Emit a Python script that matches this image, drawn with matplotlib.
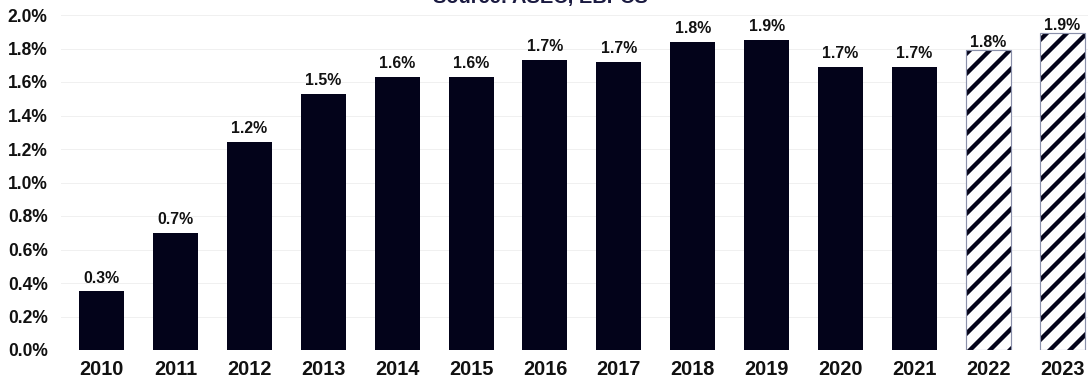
import matplotlib
matplotlib.use("Agg")
import matplotlib.pyplot as plt

plt.rcParams["font.family"] = ["Liberation Sans", "DejaVu Sans"]
plt.rcParams["hatch.linewidth"] = 2.6

anos = ["2010", "2011", "2012", "2013", "2014", "2015", "2016",
        "2017", "2018", "2019", "2020", "2021", "2022", "2023"]
valores = [0.35, 0.70, 1.24, 1.53, 1.63, 1.63, 1.73,
           1.72, 1.84, 1.85, 1.69, 1.69, 1.79, 1.89]
projecao = [False] * 12 + [True, True]
yticks = [0.0, 0.2, 0.4, 0.6, 0.8, 1.0, 1.2, 1.4, 1.6, 1.8, 2.0]

azul = "#03031a"

fig = plt.figure(figsize=(1088 / 120, 383 / 120), dpi=120)
ax = fig.add_axes([61 / 1088, 33 / 383, 1 - 61 / 1088, (368 - 33) / 383])

x = list(range(len(anos)))
for i, v in enumerate(valores):
    if projecao[i]:
        ax.bar(i, v, width=0.61, color="white", edgecolor=azul, hatch="//",
               linewidth=0, zorder=3)
        ax.bar(i, v, width=0.61, fill=False, edgecolor="#8a90aa",
               linewidth=0.7, zorder=4)
        off = 0.0
    else:
        ax.bar(i, v, width=0.61, color=azul, linewidth=0, zorder=3)
        off = 0.035
    ax.text(i, v + off, f"{v:.1f}%", ha="center", va="bottom",
            fontsize=9.5, fontweight="bold", color="#111111", zorder=5)

ax.set_xlim(-0.55, 13.35)
ax.set_ylim(0, 2.0)
ax.set_yticks(yticks)
ax.set_yticklabels([f"{t:.1f}%" for t in yticks])
ax.set_xticks(x)
ax.set_xticklabels(anos)
ax.tick_params(axis="y", length=0, pad=8, labelsize=10.5)
ax.tick_params(axis="x", length=0, pad=6, labelsize=12)
for lbl in ax.get_yticklabels() + ax.get_xticklabels():
    lbl.set_fontweight("bold")
    lbl.set_color("#111111")

ax.grid(axis="y", color="#f0f0f0", linewidth=0.6, zorder=0)
for s in ax.spines.values():
    s.set_visible(False)

fig.text(0.497, 1 - 7 / 383, "Source: ASEC, EBPCS", ha="center", va="bottom",
         fontsize=12, fontweight="bold", color="#1a1a40")

fig.savefig("out.png", dpi=120)
